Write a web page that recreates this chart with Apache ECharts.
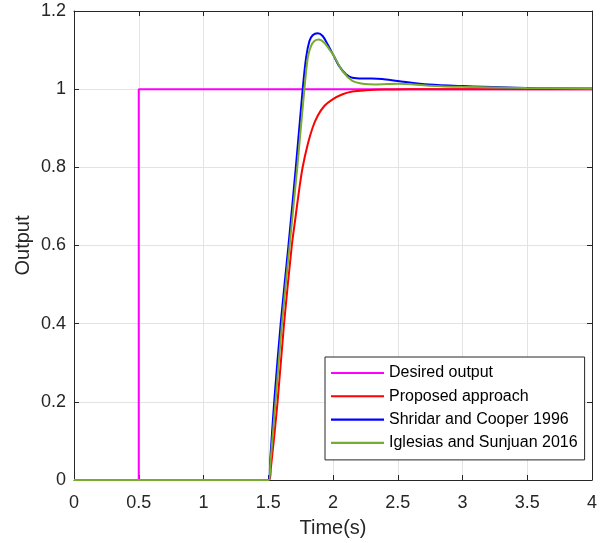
<!DOCTYPE html>
<html>
<head>
<meta charset="utf-8">
<script src="https://cdn.jsdelivr.net/npm/echarts@6/dist/echarts.min.js"></script>
<style>
html,body{margin:0;padding:0;background:#fff;}
#chart{width:611px;height:543px;}
</style>
</head>
<body>
<div id="chart"></div>
<script>
// ---- data ----
const seriesNames = ['Desired output', 'Proposed approach', 'Shridar and Cooper 1996', 'Iglesias and Sunjuan 2016'];
const xTicks = [0, 0.5, 1, 1.5, 2, 2.5, 3, 3.5, 4];
const yTicks = [0, 0.2, 0.4, 0.6, 0.8, 1, 1.2];

const desiredT = [0, 0.5, 0.5, 4];
const desiredY = [0, 0, 1, 1];

const proposedT = [0, 1.505, 1.52, 1.572, 1.622, 1.682, 1.71, 1.741, 1.766, 1.805, 1.843, 1.882, 1.933, 1.997, 2.074, 2.15, 2.254, 2.4, 2.6, 3, 4];
const proposedY = [0, 0, 0.03, 0.2, 0.4, 0.6, 0.671, 0.748, 0.801, 0.859, 0.902, 0.932, 0.957, 0.974, 0.987, 0.994, 0.997, 0.999, 1.0, 1.0, 1.0];

const shridarT = [0, 1.505, 1.515, 1.546, 1.596, 1.656, 1.713, 1.766, 1.792, 1.818, 1.843, 1.882, 1.92, 1.958, 2.0, 2.048, 2.1, 2.15, 2.228, 2.3, 2.38, 2.5, 2.74, 3.0, 3.49, 4.0];
const shridarY = [0, 0, 0.05, 0.2, 0.4, 0.6, 0.8, 1.0, 1.08, 1.123, 1.138, 1.143, 1.136, 1.115, 1.089, 1.059, 1.038, 1.029, 1.027, 1.027, 1.026, 1.021, 1.012, 1.008, 1.003, 1.002];

const iglesiasT = [0, 1.505, 1.516, 1.556, 1.606, 1.665, 1.724, 1.779, 1.805, 1.83, 1.856, 1.89, 1.933, 1.972, 2.0, 2.074, 2.15, 2.228, 2.33, 2.5, 2.74, 3.0, 3.49, 4.0];
const iglesiasY = [0, 0, 0.04, 0.2, 0.4, 0.6, 0.8, 1.0, 1.08, 1.11, 1.123, 1.127, 1.119, 1.102, 1.089, 1.046, 1.021, 1.014, 1.012, 1.014, 1.009, 1.006, 1.003, 1.001];

const colors = ['#FF00FF', '#FF0000', '#0000FF', '#77AC30'];

function pairs(t, y) { return t.map((v, i) => [v, y[i]]); }

const chart = echarts.init(document.getElementById('chart'), null, {renderer: 'canvas'});
const axisCol = '#262626';
const font = 'Liberation Sans, Arial, Helvetica, sans-serif';

function lineSeries(name, t, y, color, smooth) {
  return {
    name: name, type: 'line', data: pairs(t, y),
    showSymbol: false, symbol: 'none', smooth: smooth,
    lineStyle: {color: color, width: 2}, itemStyle: {color: color},
    animation: false, z: 3
  };
}

chart.setOption({
  animation: false,
  backgroundColor: '#fff',
  textStyle: {fontFamily: font},
  grid: {left: 74, right: 19, top: 11, bottom: 63, containLabel: false},
  xAxis: [{
    type: 'value', min: xTicks[0], max: xTicks[xTicks.length - 1], interval: 0.5,
    name: 'Time(s)', nameLocation: 'middle', nameGap: 38, nameMoveOverlap: false,
    nameTextStyle: {fontSize: 20, color: axisCol, fontFamily: font},
    axisLine: {show: true, lineStyle: {color: axisCol, width: 1}},
    axisTick: {show: true, inside: true, length: 5, lineStyle: {color: axisCol}},
    axisLabel: {fontSize: 18, color: axisCol, margin: 14, fontFamily: font},
    splitLine: {show: true, lineStyle: {color: '#e3e3e3', width: 1}}
  }, {
    type: 'value', position: 'top', min: xTicks[0], max: xTicks[xTicks.length - 1], interval: 0.5,
    axisLine: {show: true, onZero: false, lineStyle: {color: axisCol, width: 1}},
    axisTick: {show: true, inside: true, length: 5, lineStyle: {color: axisCol}},
    axisLabel: {show: false}, splitLine: {show: false}
  }],
  yAxis: [{
    type: 'value', min: yTicks[0], max: yTicks[yTicks.length - 1], interval: 0.2,
    name: 'Output', nameLocation: 'middle', nameGap: 41, nameMoveOverlap: false,
    nameTextStyle: {fontSize: 20, color: axisCol, fontFamily: font},
    axisLine: {show: true, lineStyle: {color: axisCol, width: 1}},
    axisTick: {show: true, inside: true, length: 5, lineStyle: {color: axisCol}},
    axisLabel: {fontSize: 18, color: axisCol, margin: 8, fontFamily: font},
    splitLine: {show: true, lineStyle: {color: '#e3e3e3', width: 1}}
  }, {
    type: 'value', position: 'right', min: yTicks[0], max: yTicks[yTicks.length - 1], interval: 0.2,
    axisLine: {show: true, onZero: false, lineStyle: {color: axisCol, width: 1}},
    axisTick: {show: true, inside: true, length: 5, lineStyle: {color: axisCol}},
    axisLabel: {show: false}, splitLine: {show: false}
  }],
  legend: {
    show: true, orient: 'vertical', left: 325, top: 357,
    padding: [8, 7, 9, 6], itemGap: 7.3, itemWidth: 53, itemHeight: 16,
    backgroundColor: '#fff', borderColor: axisCol, borderWidth: 1, borderRadius: 0,
    textStyle: {fontSize: 16, color: '#000', fontFamily: font, lineHeight: 16},
    data: seriesNames.map(n => ({name: n, icon: 'path://M0,0 L100,0 L100,4 L0,4 Z'})),
    z: 10
  },
  series: [
    lineSeries(seriesNames[0], desiredT, desiredY, colors[0], false),
    lineSeries(seriesNames[1], proposedT, proposedY, colors[1], 0.3),
    lineSeries(seriesNames[2], shridarT, shridarY, colors[2], 0.3),
    lineSeries(seriesNames[3], iglesiasT, iglesiasY, colors[3], 0.3)
  ]
});
</script>
</body>
</html>
